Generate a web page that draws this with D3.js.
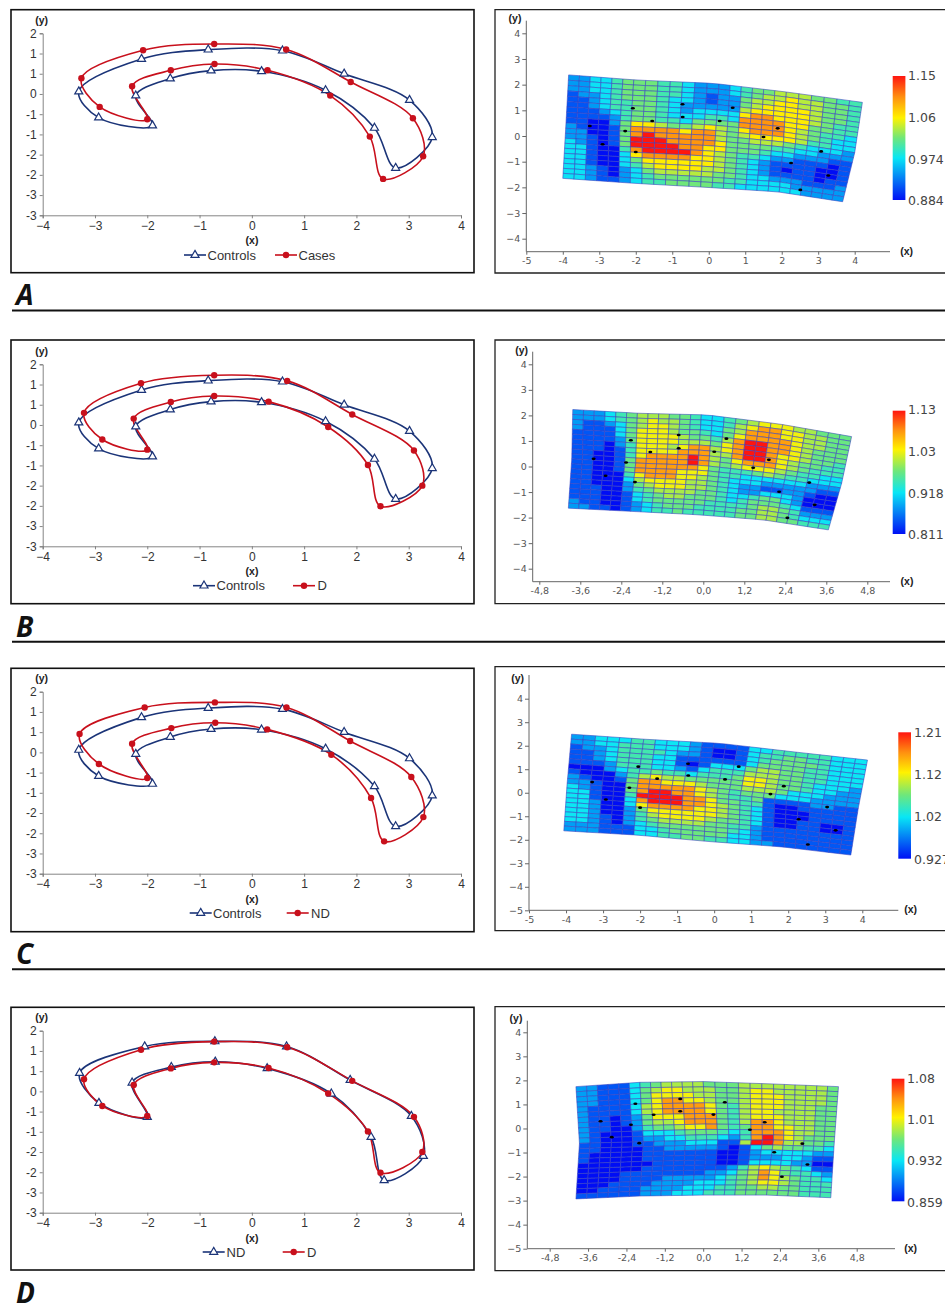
<!DOCTYPE html>
<html>
<head>
<meta charset="utf-8">
<script src="https://cdn.jsdelivr.net/npm/d3@7"></script>
<style>
html, body { margin: 0; padding: 0; background: #fff; overflow: hidden; }
svg { display: block; }
text { font-family: "Liberation Sans", Arial, sans-serif; }
.heat text { font-family: "DejaVu Sans", Verdana, sans-serif; }
</style>
</head>
<body>
<svg width="945" height="1305"></svg>
<script>
// landmarks (x, y), same order in every series
var controls = [[-1.90,-0.78],[-2.93,-0.585],[-3.31,0.06],[-2.11,0.865],[-0.835,1.095],[0.586,1.07],[1.765,0.50],[3.015,-0.15],[3.45,-1.07],[2.75,-1.83],[2.345,-0.84],[1.41,0.09],[0.185,0.56],[-0.78,0.577],[-1.56,0.38],[-2.22,-0.04]];
var cases = [[-2.0,-0.626],[-2.91,-0.32],[-3.26,0.387],[-2.08,1.08],[-0.72,1.235],[0.656,1.10],[1.89,0.297],[3.08,-0.60],[3.276,-1.54],[2.51,-2.10],[2.256,-1.054],[1.50,-0.04],[0.30,0.585],[-0.714,0.741],[-1.55,0.585],[-2.29,0.19]];
var groupD = [[-2.0,-0.61],[-2.86,-0.36],[-3.21,0.30],[-2.12,1.03],[-0.72,1.23],[0.676,1.09],[1.92,0.26],[3.10,-0.63],[3.26,-1.50],[2.46,-2.01],[2.22,-0.99],[1.46,-0.05],[0.32,0.577],[-0.72,0.717],[-1.55,0.568],[-2.26,0.157]];
var groupND = [[-2.0,-0.634],[-2.925,-0.288],[-3.295,0.453],[-2.05,1.11],[-0.707,1.235],[0.663,1.11],[1.88,0.28],[3.05,-0.61],[3.28,-1.60],[2.53,-2.2],[2.28,-1.13],[1.52,-0.058],[0.293,0.568],[-0.70,0.733],[-1.54,0.60],[-2.29,0.214]];

// left chart axes (the y labels are rounded half steps, as printed)
var profileXTicks = [-4,-3,-2,-1,0,1,2,3,4];
var profileYTicks = [1.5,1,0.5,0,-0.5,-1,-1.5,-2,-2.5,-3];
var profileYLabels = ['2','1','1','0','-1','-1','-2','-2','-3','-3'];

// colour bar ticks, bottom to top
var ticksA = [0.884,0.974,1.06,1.15];
var ticksB = [0.811,0.918,1.03,1.13];
var ticksC = [0.927,1.02,1.12,1.21];
var ticksD = [0.859,0.932,1.01,1.08];

// where each colour level sits on the bar, 0 = bottom, 1 = top
var levelStops = [0,0.11,0.22,0.33,0.43,0.5,0.58,0.67,0.82,1];

// heat map cells, colour level 0 (bottom of the bar) to 9 (top of the bar), one string per row
var heatA = [
'2 2 3 3 4 5 5 5 4 4 3 2 2 2 3 4 5 5 6 6 6 5 5 4 4',
'2 2 3 3 4 5 5 5 4 4 3 2 2 2 3 4 5 6 6 7 6 6 5 5 4',
'2 2 3 3 4 5 5 5 4 4 3 2 1 2 2 5 6 6 7 7 6 6 5 5 4',
'1 2 2 3 4 5 5 5 4 3 3 2 1 2 2 5 6 7 7 7 7 6 5 5 4',
'1 1 2 3 4 4 5 5 4 3 2 2 2 2 2 6 7 7 7 7 7 6 5 5 4',
'1 1 2 3 4 4 5 5 4 3 2 3 3 3 3 7 8 8 7 7 7 6 5 4 4',
'1 1 1 2 3 4 5 5 4 3 3 3 4 4 3 8 8 8 8 7 7 5 5 4 4',
'1 1 1 1 2 4 5 5 4 4 3 5 5 5 5 8 8 8 8 7 6 5 4 4 3',
'1 1 0 0 2 5 7 7 6 5 5 6 7 6 5 7 8 8 8 7 6 5 4 3 3',
'2 1 0 0 1 5 8 8 8 8 7 8 8 6 5 6 7 7 7 7 6 4 4 3 3',
'2 2 0 0 1 5 8 9 8 8 8 8 8 6 5 5 6 6 6 5 4 3 3 3 2',
'2 2 1 0 1 5 9 9 9 8 8 8 8 7 5 5 5 5 4 4 3 3 2 2 2',
'3 2 1 0 1 5 9 9 9 9 8 8 7 7 5 5 5 4 3 3 2 2 2 1 1',
'3 3 1 0 0 4 8 9 9 9 9 8 7 6 5 4 4 3 2 2 1 1 1 0 1',
'3 3 1 0 0 3 7 8 8 8 8 7 7 6 5 4 3 2 1 1 1 1 0 0 1',
'3 3 1 0 0 3 5 7 7 7 7 7 7 6 5 4 3 2 1 0 1 1 0 0 1',
'3 3 1 0 0 3 4 6 7 7 7 7 6 6 5 4 3 2 1 1 1 1 0 1 1',
'3 3 2 1 0 2 3 5 6 6 6 6 6 5 5 4 3 3 2 2 2 1 1 1 2',
'3 3 2 1 0 2 3 4 5 5 5 5 5 5 4 4 3 3 3 3 2 2 2 2 2',
'3 3 2 1 1 2 3 4 4 5 5 5 5 4 4 3 3 3 3 3 3 2 2 2 2'];
var heatB = [
'2 2 2 3 4 5 6 6 6 5 5 4 3 3 4 5 6 7 7 7 6 6 5 5 5',
'2 2 2 3 4 5 6 7 6 6 5 4 3 3 4 6 7 8 8 7 7 6 6 5 5',
'2 1 1 2 3 5 6 7 7 6 5 4 3 3 5 6 8 8 8 7 7 6 6 5 5',
'2 1 1 1 3 5 7 7 7 6 5 5 4 3 5 7 8 8 8 8 7 6 6 5 5',
'1 1 1 1 3 5 7 7 7 7 6 5 5 4 6 8 9 9 8 8 7 6 5 5 5',
'1 1 1 1 2 5 7 7 7 7 6 6 6 5 7 8 9 9 8 8 7 6 5 5 5',
'1 1 1 0 2 4 7 7 7 6 7 8 8 6 7 8 9 9 8 7 7 6 5 5 4',
'1 1 1 0 1 4 7 7 7 7 8 8 8 6 6 8 9 9 8 7 6 5 5 4 4',
'1 1 0 0 1 4 7 8 8 8 8 9 8 6 5 7 8 8 8 7 6 5 4 4 4',
'1 1 0 0 1 5 8 8 8 8 8 9 8 6 5 6 7 7 7 6 5 4 4 3 3',
'1 1 0 0 1 5 8 8 8 8 8 8 7 5 4 4 4 5 6 5 4 4 3 3 3',
'1 1 0 0 1 5 8 8 8 8 7 7 7 5 4 4 3 3 3 3 3 3 2 2 2',
'1 1 0 0 0 4 7 8 8 8 7 7 6 5 4 3 3 3 2 2 2 2 2 1 1',
'1 1 0 0 0 3 6 7 7 7 7 6 6 5 4 3 2 2 1 1 2 2 1 0 0',
'1 1 0 0 0 2 5 6 7 7 7 6 6 5 4 3 2 2 3 3 3 2 0 0 0',
'1 1 1 0 0 2 4 5 6 6 6 6 5 5 4 3 3 4 5 5 3 2 0 0 0',
'1 1 1 0 0 1 3 4 5 6 6 5 5 5 4 3 4 5 5 5 4 3 1 1 1',
'1 1 1 0 0 1 3 4 5 5 5 5 5 4 4 4 4 5 6 6 5 4 2 2 2',
'2 1 1 0 0 1 2 3 4 5 5 5 4 4 4 4 5 5 6 6 5 4 3 3 3',
'2 2 1 1 0 1 2 3 4 4 5 4 4 4 4 4 5 5 6 6 5 5 4 4 4'];
var heatC = [
'2 2 3 3 3 4 4 3 3 3 2 1 1 1 1 3 3 4 4 4 4 4 3 3 3',
'2 2 3 3 4 4 4 3 3 3 2 1 0 0 1 3 4 4 5 5 4 4 3 3 3',
'1 2 2 3 4 4 4 4 3 2 2 1 0 0 1 3 4 5 5 5 5 4 3 3 3',
'1 1 2 3 4 4 4 3 3 1 1 1 1 1 1 3 5 5 5 5 4 4 3 3 3',
'1 1 2 3 4 4 4 3 3 1 0 1 3 3 3 5 6 6 5 5 4 4 3 3 3',
'1 1 1 2 4 4 4 3 3 2 1 3 4 4 4 6 6 6 5 5 4 4 3 3 3',
'0 0 0 2 3 4 4 5 4 4 3 4 4 4 5 7 7 6 5 5 4 3 3 3 2',
'1 0 0 0 2 4 6 7 6 6 5 5 5 5 5 7 7 6 5 5 4 3 3 2 2',
'2 1 0 0 1 5 8 8 7 7 7 6 5 5 5 6 6 6 5 3 3 3 2 2 2',
'2 2 1 0 0 5 8 8 8 8 8 7 6 5 4 5 5 5 3 3 3 2 2 2 2',
'3 2 1 0 0 5 8 9 9 8 8 7 6 5 4 4 5 1 1 1 1 2 2 1 1',
'3 3 1 0 0 4 9 9 9 9 8 8 7 5 5 4 4 1 0 0 1 1 1 1 1',
'3 3 1 0 0 3 8 9 9 9 8 8 7 6 5 4 3 1 0 0 0 1 1 1 1',
'3 3 2 0 0 3 7 8 8 8 8 7 7 6 5 4 3 1 0 0 0 1 1 1 1',
'3 3 2 0 0 2 5 7 7 7 7 7 7 6 5 4 3 1 0 0 1 1 0 0 1',
'3 3 2 0 0 2 4 6 7 7 7 7 6 5 5 4 3 1 0 0 1 1 0 0 1',
'3 3 2 1 0 2 4 5 6 6 6 6 5 5 4 4 2 1 1 1 1 1 1 1 1',
'3 3 2 1 0 2 3 4 5 5 5 5 5 5 4 3 2 1 1 1 1 1 1 1 1',
'2 2 2 1 1 1 3 3 4 5 5 5 5 5 3 3 2 1 1 1 1 1 1 1 1',
'2 2 2 1 1 1 3 3 4 4 5 5 4 4 3 3 2 2 1 1 1 1 1 1 1'];
var heatD = [
'2 2 1 1 1 3 4 5 6 6 6 6 5 5 5 6 6 6 6 6 6 6 6 5',
'2 2 1 1 1 3 5 6 7 7 6 6 6 5 5 6 7 7 6 6 6 6 6 5',
'2 2 1 1 1 3 5 7 7 7 7 6 6 5 5 6 7 7 7 6 6 6 6 5',
'2 2 1 1 1 3 5 7 8 8 7 7 6 5 5 6 7 7 7 6 6 6 6 5',
'2 1 1 1 1 3 6 7 8 8 8 8 7 5 4 6 7 7 7 6 6 6 5 5',
'2 1 1 1 1 3 6 7 8 8 8 8 7 5 4 6 7 7 6 6 6 6 5 5',
'2 1 1 0 1 2 5 7 7 7 8 8 8 5 4 6 7 7 7 6 6 6 5 5',
'2 1 1 0 1 2 5 6 6 7 8 8 8 5 4 6 8 8 7 6 6 6 5 5',
'2 1 1 0 0 2 4 5 5 6 7 7 8 5 4 5 8 8 7 7 6 6 5 5',
'2 1 0 0 0 1 3 3 3 4 5 5 5 4 3 4 8 8 8 7 6 6 5 5',
'2 1 0 0 0 1 2 2 3 3 4 4 4 3 2 4 8 9 8 7 6 5 5 5',
'1 1 0 0 0 1 1 2 2 2 3 3 3 1 1 6 9 9 8 6 6 5 5 4',
'1 1 0 0 0 0 1 1 2 2 2 2 2 1 0 1 3 5 6 5 5 4 4 3',
'1 0 0 0 0 0 1 1 1 1 1 1 1 0 0 1 2 3 3 3 3 3 2 2',
'1 0 0 0 0 0 1 1 1 1 1 1 1 0 0 1 2 2 2 3 3 2 1 1',
'0 0 0 0 0 0 0 1 1 1 1 1 1 0 0 1 3 3 3 3 2 2 0 0',
'0 0 0 0 0 0 1 1 1 1 1 1 1 1 2 4 6 7 6 5 4 3 1 1',
'0 0 0 0 1 1 1 1 1 1 1 1 2 2 3 5 6 8 7 5 4 4 3 2',
'0 0 0 0 1 1 1 1 2 2 2 2 2 3 4 5 6 8 7 6 5 4 4 3',
'0 0 0 1 1 1 1 2 2 2 2 3 3 3 4 5 6 7 7 6 5 4 4 4',
'0 0 1 1 1 1 2 2 2 2 3 3 3 4 4 5 5 6 6 5 5 4 4 4',
'1 1 1 1 1 1 2 2 2 3 3 3 4 4 4 5 5 5 5 5 5 4 4 4'];

// outline of the warped grid in chart units: top, middle and bottom rail, five knots each
var railsA = [[[-3.84,2.38],[-1.98,2.18],[0.13,2.05],[2.04,1.73],[4.21,1.31]],
              [[-3.92,0.30],[-2.07,0.17],[0.03,0.03],[1.97,-0.22],[4.0,-0.65]],
              [[-4.0,-1.65],[-2.07,-1.84],[-0.06,-2.0],[1.86,-2.17],[3.67,-2.56]]];
var railsB = [[[-3.82,2.23],[-1.85,2.08],[0.1,2.02],[2.24,1.66],[4.34,1.17]],
              [[-3.85,0.30],[-1.9,0.13],[0,0.04],[2.0,-0.26],[4.05,-0.65]],
              [[-3.95,-1.63],[-2.05,-1.76],[-0.15,-1.89],[1.76,-2.09],[3.66,-2.48]]];
var railsC = [[[-3.85,2.49],[-1.82,2.27],[0.16,2.1],[2.14,1.74],[4.14,1.39]],
              [[-3.97,0.40],[-2.0,0.18],[-0.07,0],[1.87,-0.31],[3.89,-0.67]],
              [[-4.06,-1.62],[-2.09,-1.8],[-0.11,-2.08],[1.82,-2.3],[3.69,-2.65]]];
var railsD = [[[-3.98,1.74],[-1.98,1.92],[0,1.95],[2.2,1.85],[4.23,1.74]],
              [[-3.87,-0.62],[-1.87,-0.55],[0.11,-0.48],[2.2,-0.48],[4.1,-0.55]],
              [[-3.98,-2.93],[-1.98,-2.81],[0,-2.77],[1.98,-2.77],[3.99,-2.88]]];

var heatXInt = [-5,-4,-3,-2,-1,0,1,2,3,4];
var heatXDec = [-4.8,-3.6,-2.4,-1.2,0,1.2,2.4,3.6,4.8];
var heatY4 = [4,3,2,1,0,-1,-2,-3,-4];
var heatY5 = [4,3,2,1,0,-1,-2,-3,-4,-5];

var svg = d3.select('svg');
var navy = '#1b3478';
var red = '#c8101c';

// soften the cell edges a little, the map in the figure is not crisp
svg.append('defs').append('filter')
    .attr('id', 'soft')
    .append('feGaussianBlur')
    .attr('stdDeviation', 0.55);

// one row of the figure: left chart, right heat map, letter and rule
var rows = [
    {letter: 'A', letterY: 305, ruleY: 310.5, frameTop: 9.7, frameBottom: 272.7, axisTop: 33.3, axisBottom: 215.3,
     a: controls, aName: 'Controls', b: cases, bName: 'Cases',
     legendY: 255, legendX: [184, 207.5, 275, 298.5],
     heat: heatA, rails: railsA, ticks: ticksA, dots: cases,
     hTop: 9.7, hBottom: 273, xPx: [526.3, 854.7], xDom: [-5,4], xTicks: heatXInt, yPx: [33.3, 238.7], yDom: [4,-4], yTicks: heatY4,
     spineX: 526.3, baseY: 251.7, spineTop: 20.7, xEnd: 890, barX: 892.7, barY: [76, 200], labelX: 908, labelY: [76, 118, 160, 201],
     xLabel: [906.7, 251], yLabel: [515, 22]},
    {letter: 'B', letterY: 636.5, ruleY: 641.7, frameTop: 340, frameBottom: 603.7, axisTop: 364.3, axisBottom: 546.3,
     a: controls, aName: 'Controls', b: groupD, bName: 'D',
     legendY: 585.7, legendX: [193, 216.5, 293, 317.5],
     heat: heatB, rails: railsB, ticks: ticksB, dots: groupD,
     hTop: 340, hBottom: 603.7, xPx: [539.3, 867.3], xDom: [-4.8,4.8], xTicks: heatXDec, yPx: [364.3, 568.7], yDom: [4,-4], yTicks: heatY4,
     spineX: 532.7, baseY: 581.7, spineTop: 351.7, xEnd: 890, barX: 892.7, barY: [410.7, 534], labelX: 908, labelY: [410, 452, 494, 535],
     xLabel: [907, 581], yLabel: [521.7, 354]},
    {letter: 'C', letterY: 963.5, ruleY: 969.3, frameTop: 668.3, frameBottom: 931.7, axisTop: 691.7, axisBottom: 873.7,
     a: controls, aName: 'Controls', b: groupND, bName: 'ND',
     legendY: 913, legendX: [189.7, 213, 286.7, 311],
     heat: heatC, rails: railsC, ticks: ticksC, dots: groupND,
     hTop: 666.7, hBottom: 930.7, xPx: [529, 862.3], xDom: [-5,4], xTicks: heatXInt, yPx: [698.7, 910.3], yDom: [4,-5], yTicks: heatY5,
     spineX: 529, baseY: 910.3, spineTop: 675, xEnd: 898.3, barX: 898.3, barY: [732.3, 858.7], labelX: 914, labelY: [733, 775, 817, 860],
     xLabel: [910.7, 909], yLabel: [517.7, 682]},
    {letter: 'D', letterY: 1302.5, ruleY: null, frameTop: 1007.3, frameBottom: 1270, axisTop: 1030.7, axisBottom: 1212.7,
     a: groupND, aName: 'ND', b: groupD, bName: 'D',
     legendY: 1252, legendX: [202.7, 226.5, 282.7, 307],
     heat: heatD, rails: railsD, ticks: ticksD, dots: groupD,
     hTop: 1006.7, hBottom: 1270.7, xPx: [549.7, 856.7], xDom: [-4.8,4.8], xTicks: heatXDec, yPx: [1032.3, 1248.7], yDom: [4,-5], yTicks: heatY5,
     spineX: 527.3, baseY: 1248.7, spineTop: 1020.7, xEnd: 895, barX: 891.7, barY: [1078.7, 1201.3], labelX: 907, labelY: [1079, 1120, 1161, 1203],
     xLabel: [910.7, 1248], yLabel: [516, 1022]}
];

var triangle = d3.symbol().type(d3.symbolTriangle).size(28);

function drawMarkers(g, pts, x, y, kind) {
    if (kind === 'tri') {
        g.selectAll('.tri')
            .data(pts)
            .enter()
            .append('path')
            .attr('class', 'tri')
            .attr('d', triangle)
            .attr('transform', function(d) { return 'translate(' + x(d[0]) + ',' + y(d[1]) + ')'; })
            .attr('fill', '#fff')
            .attr('stroke', navy)
            .attr('stroke-width', 1.2);
    } else {
        g.selectAll('.dot')
            .data(pts)
            .enter()
            .append('circle')
            .attr('class', 'dot')
            .attr('cx', function(d) { return x(d[0]); })
            .attr('cy', function(d) { return y(d[1]); })
            .attr('r', 3.2)
            .attr('fill', red);
    }
}

function drawProfile(row) {
    var g = svg.append('g').attr('class', 'profile');

    g.append('rect')
        .attr('x', 11)
        .attr('y', row.frameTop)
        .attr('width', 463)
        .attr('height', row.frameBottom - row.frameTop)
        .attr('fill', 'none')
        .attr('stroke', '#111')
        .attr('stroke-width', 1.6);

    var x = d3.scaleLinear().domain([-4,4]).range([42.7,461]);
    var y = d3.scaleLinear().domain([1.5,-3]).range([row.axisTop,row.axisBottom]);

    var xAxis = g.append('g')
        .attr('transform', 'translate(0,' + row.axisBottom + ')')
        .call(d3.axisBottom(x).tickValues(profileXTicks).tickSizeOuter(0).tickSize(3).tickPadding(3));
    var yAxis = g.append('g')
        .attr('transform', 'translate(42.7,0)')
        .call(d3.axisLeft(y).tickValues(profileYTicks).tickSizeOuter(0).tickSize(3).tickPadding(3)
            .tickFormat(function(d, i) { return profileYLabels[i]; }));
    [xAxis, yAxis].forEach(function(a) {
        a.selectAll('path, line').attr('stroke', '#777').attr('stroke-width', 0.9);
        a.selectAll('text').attr('font-size', 12).attr('fill', '#333').style('font-family', '"Liberation Sans", Arial, sans-serif');
    });

    var line = d3.line()
        .x(function(d) { return x(d[0]); })
        .y(function(d) { return y(d[1]); })
        .curve(d3.curveCatmullRomClosed.alpha(0.5));

    g.append('path').attr('d', line(row.a)).attr('fill', 'none').attr('stroke', navy).attr('stroke-width', 1.6);
    g.append('path').attr('d', line(row.b)).attr('fill', 'none').attr('stroke', red).attr('stroke-width', 1.6);

    drawMarkers(g, row.a, x, y, 'tri');
    drawMarkers(g, row.b, x, y, 'dot');

    g.append('text').attr('x', 41.7).attr('y', row.axisTop - 9.5).attr('text-anchor', 'middle')
        .attr('font-size', 10.5).attr('font-weight', 'bold').attr('fill', '#222').text('(y)');
    g.append('text').attr('x', 252).attr('y', row.axisBottom + 29).attr('text-anchor', 'middle')
        .attr('font-size', 10.5).attr('font-weight', 'bold').attr('fill', '#222').text('(x)');

    // legend
    var lx = row.legendX;
    g.append('line').attr('x1', lx[0]).attr('x2', lx[0] + 22).attr('y1', row.legendY).attr('y2', row.legendY).attr('stroke', navy).attr('stroke-width', 1.6);
    g.append('path').attr('d', triangle).attr('transform', 'translate(' + (lx[0] + 11) + ',' + row.legendY + ')')
        .attr('fill', '#fff').attr('stroke', navy).attr('stroke-width', 1.2);
    g.append('text').attr('x', lx[1]).attr('y', row.legendY + 4.5).attr('font-size', 13).attr('fill', '#333').text(row.aName);
    g.append('line').attr('x1', lx[2]).attr('x2', lx[2] + 22).attr('y1', row.legendY).attr('y2', row.legendY).attr('stroke', red).attr('stroke-width', 1.6);
    g.append('circle').attr('cx', lx[2] + 11).attr('cy', row.legendY).attr('r', 3.2).attr('fill', red);
    g.append('text').attr('x', lx[3]).attr('y', row.legendY + 4.5).attr('font-size', 13).attr('fill', '#333').text(row.bName);
}

function drawHeat(row, idx) {
    var g = svg.append('g').attr('class', 'heat');

    // frame runs off the right edge of the page
    g.append('path')
        .attr('d', 'M950,' + row.hTop + 'H495V' + row.hBottom + 'H950')
        .attr('fill', 'none')
        .attr('stroke', '#222')
        .attr('stroke-width', 1.3);

    var x = d3.scaleLinear().domain(row.xDom).range(row.xPx);
    var y = d3.scaleLinear().domain(row.yDom).range(row.yPx);

    var t = row.ticks;
    var color = d3.scaleLinear()
        .domain([t[0], t[1], (t[1] + t[2]) / 2, t[2], (t[2] + t[3]) / 2, t[3]])
        .range(['#0010f5', '#08e6f5', '#6fe77a', '#fff200', '#ff9010', '#ff1510']);

    // grid nodes come from the three rails
    var uKnots = [0, 0.25, 0.5, 0.75, 1];
    var rails = row.rails.map(function(rail) {
        return {
            x: d3.scaleLinear().domain(uKnots).range(rail.map(function(p) { return p[0]; })),
            y: d3.scaleLinear().domain(uKnots).range(rail.map(function(p) { return p[1]; }))
        };
    });
    function node(u, v) {
        var pick = d3.scaleLinear().domain([0, 0.5, 1]);
        return [
            x(pick.range(rails.map(function(r) { return r.x(u); }))(v)),
            y(pick.range(rails.map(function(r) { return r.y(u); }))(v))
        ];
    }

    var cells = [];
    row.heat.forEach(function(str, r) {
        var levels = str.split(' ').map(Number);
        levels.forEach(function(lv, c) {
            cells.push({
                r: r, c: c,
                value: t[0] + levelStops[lv] * (t[3] - t[0]),
                nRows: row.heat.length, nCols: levels.length
            });
        });
    });

    g.append('g')
        .attr('filter', 'url(#soft)')
        .selectAll('.cell')
        .data(cells)
        .enter()
        .append('polygon')
        .attr('class', 'cell')
        .attr('points', function(d) {
            var u0 = d.c / d.nCols, u1 = (d.c + 1) / d.nCols;
            var v0 = d.r / d.nRows, v1 = (d.r + 1) / d.nRows;
            return [node(u0, v0), node(u1, v0), node(u1, v1), node(u0, v1)].join(' ');
        })
        .attr('fill', function(d) { return color(d.value); })
        .attr('stroke', '#3a42c0')
        .attr('stroke-opacity', 0.8)
        .attr('stroke-width', 0.7);

    g.selectAll('.landmark')
        .data(row.dots)
        .enter()
        .append('ellipse')
        .attr('class', 'landmark')
        .attr('cx', function(d) { return x(d[0]); })
        .attr('cy', function(d) { return y(d[1]); })
        .attr('rx', 2)
        .attr('ry', 1.3)
        .attr('fill', '#000');

    // axes
    var xAxis = g.append('g')
        .attr('transform', 'translate(0,' + row.baseY + ')')
        .call(d3.axisBottom(x).tickValues(row.xTicks).tickSize(3).tickPadding(3)
            .tickFormat(function(d) {
                return row.xTicks === heatXDec ? d.toFixed(1).replace('.', ',') : d;
            }));
    xAxis.select('.domain').attr('d', 'M' + row.spineX + ',0H' + row.xEnd);
    var yAxis = g.append('g')
        .attr('transform', 'translate(' + row.spineX + ',0)')
        .call(d3.axisLeft(y).tickValues(row.yTicks).tickSize(4).tickPadding(2));
    yAxis.select('.domain').attr('d', 'M0,' + row.spineTop + 'V' + row.baseY);
    [xAxis, yAxis].forEach(function(a) {
        a.selectAll('path, line').attr('stroke', '#666').attr('stroke-width', 1);
        a.selectAll('text').attr('font-size', 9.5).attr('fill', '#555').style('font-family', '"DejaVu Sans", Verdana, sans-serif');
    });

    g.append('text').attr('x', row.yLabel[0]).attr('y', row.yLabel[1]).attr('text-anchor', 'middle')
        .attr('font-size', 10.5).attr('font-weight', 'bold').attr('fill', '#222')
        .style('font-family', '"Liberation Sans", Arial, sans-serif').text('(y)');
    g.append('text').attr('x', row.xLabel[0]).attr('y', row.xLabel[1] + 4).attr('text-anchor', 'middle')
        .attr('font-size', 10.5).attr('font-weight', 'bold').attr('fill', '#222')
        .style('font-family', '"Liberation Sans", Arial, sans-serif').text('(x)');

    // colour bar
    var gradId = 'bar' + idx;
    var grad = svg.append('defs').append('linearGradient')
        .attr('id', gradId).attr('x1', 0).attr('x2', 0).attr('y1', 1).attr('y2', 0);
    color.domain().forEach(function(v) {
        grad.append('stop')
            .attr('offset', (v - t[0]) / (t[3] - t[0]))
            .attr('stop-color', color(v));
    });
    g.append('rect')
        .attr('x', row.barX)
        .attr('y', row.barY[0])
        .attr('width', 12.7)
        .attr('height', row.barY[1] - row.barY[0])
        .attr('fill', 'url(#' + gradId + ')');

    var shown = t.slice().reverse();
    g.selectAll('.barlabel')
        .data(shown)
        .enter()
        .append('text')
        .attr('class', 'barlabel')
        .attr('x', row.labelX)
        .attr('y', function(d, i) { return row.labelY[i]; })
        .attr('dy', '0.35em')
        .attr('font-size', 12.5)
        .attr('fill', '#444')
        .text(function(d) { return d; });
}

rows.forEach(function(row, i) {
    drawProfile(row);
    drawHeat(row, i);

    svg.append('text')
        .attr('x', 16)
        .attr('y', row.letterY)
        .attr('font-size', 28)
        .attr('font-weight', 'bold')
        .attr('font-style', 'italic')
        .attr('fill', '#111')
        .style('font-family', '"Open Sans", "Liberation Sans", sans-serif')
        .text(row.letter);

    if (row.ruleY !== null) {
        svg.append('line')
            .attr('x1', 12)
            .attr('x2', 945)
            .attr('y1', row.ruleY)
            .attr('y2', row.ruleY)
            .attr('stroke', '#111')
            .attr('stroke-width', 2);
    }
});
</script>
</body>
</html>
